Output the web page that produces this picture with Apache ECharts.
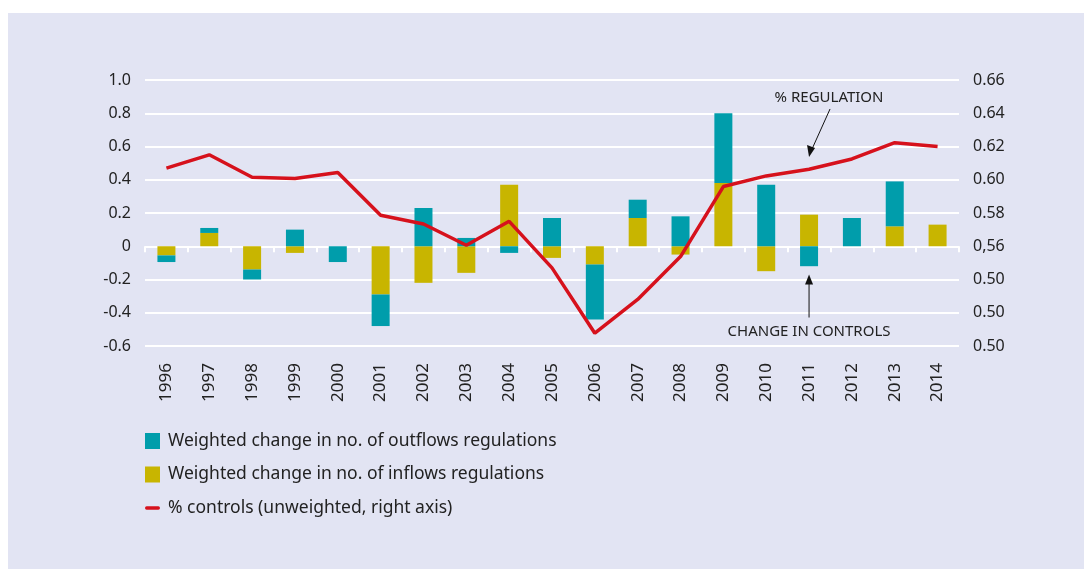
<!DOCTYPE html>
<html>
<head>
<meta charset="utf-8">
<script src="https://cdn.jsdelivr.net/npm/echarts@6/dist/echarts.min.js"></script>
<style>
  html, body { margin: 0; padding: 0; background: #ffffff; }
  #chart { position: absolute; left: 8px; top: 13px; width: 1076px; height: 556px; background: #e2e4f3; }
</style>
</head>
<body>
<div id="chart"></div>
<script>
const years = ["1996", "1997", "1998", "1999", "2000", "2001", "2002", "2003", "2004", "2005",
  "2006", "2007", "2008", "2009", "2010", "2011", "2012", "2013", "2014"];

// weighted change in no. of inflows regulations (stacked first, next to zero)
const inflows = [-0.055, 0.08, -0.14, -0.04, 0, -0.29, -0.22, -0.16, 0.37, -0.07,
  -0.11, 0.17, -0.05, 0.38, -0.15, 0.19, 0, 0.12, 0.13];
// weighted change in no. of outflows regulations
const outflows = [-0.04, 0.03, -0.06, 0.1, -0.095, -0.19, 0.23, 0.05, -0.04, 0.17,
  -0.33, 0.11, 0.18, 0.42, 0.37, -0.12, 0.17, 0.27, 0];
// % controls, right axis
const controls = [0.607, 0.615, 0.6015, 0.6007, 0.6043, 0.5787, 0.5734, 0.5606, 0.575, 0.547,
  0.5077, 0.528, 0.5538, 0.5959, 0.6023, 0.6063, 0.6125, 0.6223, 0.62];

const leftTicks = ["-0.6", "-0.4", "-0.2", "0", "0.2", "0.4", "0.6", "0.8", "1.0"];
const rightTicks = ["0.50", "0.50", "0.50", "0,56", "0.58", "0.60", "0.62", "0.64", "0.66"];

const FONT = "Noto Sans";
const TEXT = "#222222";

const chart = echarts.init(document.getElementById("chart"), null, { renderer: "canvas" });

chart.setOption({
  animation: false,
  textStyle: { fontFamily: FONT },
  grid: { left: 137, right: 125, top: 67, bottom: 223, containLabel: false },
  legend: {
    orient: "vertical",
    left: 137,
    top: 419,
    padding: 0,
    itemGap: 15.5,
    itemWidth: 15,
    itemHeight: 16,
    textStyle: { fontFamily: FONT, fontSize: 17.5, color: TEXT, padding: [0, 0, 0, 3] },
    data: [
      { name: "Weighted change in no. of outflows regulations", icon: "rect" },
      { name: "Weighted change in no. of inflows regulations", icon: "rect" },
      { name: "% controls (unweighted, right axis)", icon: "path://M2,0h14a2,2 0 0 1 0,4h-14a2,2 0 0 1 0,-4z" }
    ]
  },
  xAxis: {
    type: "category",
    data: years,
    boundaryGap: true,
    axisLine: { show: false },
    axisTick: { show: true, alignWithLabel: false, length: 6, lineStyle: { color: "#ffffff", width: 2 } },
    axisLabel: { rotate: 90, fontSize: 17, color: TEXT, margin: 17, fontFamily: FONT }
  },
  yAxis: [
    {
      type: "value",
      min: -0.6,
      max: 1.0,
      interval: 0.2,
      axisLine: { show: false },
      axisTick: { show: false },
      splitLine: { show: true, lineStyle: { color: "#ffffff", width: 2 } },
      axisLabel: {
        fontSize: 16, color: TEXT, margin: 14, fontFamily: FONT,
        formatter: v => leftTicks[Math.round((v + 0.6) / 0.2)]
      }
    },
    {
      type: "value",
      min: 0.5,
      max: 0.66,
      interval: 0.02,
      axisLine: { show: false },
      axisTick: { show: false },
      splitLine: { show: false },
      axisLabel: {
        fontSize: 16, color: TEXT, margin: 14, fontFamily: FONT,
        formatter: v => rightTicks[Math.round((v - 0.5) / 0.02)]
      }
    }
  ],
  series: [
    {
      name: "Weighted change in no. of inflows regulations",
      type: "bar",
      stack: "chg",
      barWidth: 18,
      itemStyle: { color: "#c8b500" },
      data: inflows
    },
    {
      name: "Weighted change in no. of outflows regulations",
      type: "bar",
      stack: "chg",
      barWidth: 18,
      itemStyle: { color: "#009dab" },
      data: outflows
    },
    {
      name: "% controls (unweighted, right axis)",
      type: "line",
      yAxisIndex: 1,
      symbol: "none",
      lineStyle: { color: "#d6111c", width: 3.5 },
      itemStyle: { color: "#d6111c" },
      z: 5,
      data: controls
    }
  ]
});

// annotations, anchored to the data positions the arrows point at
const regPt = chart.convertToPixel({ xAxisIndex: 0, yAxisIndex: 1 }, [15, 0.6137]);
const ctlPt = chart.convertToPixel({ xAxisIndex: 0, yAxisIndex: 0 }, [15, -0.17]);
chart.setOption({
  graphic: [
    {
      type: "text", x: regPt[0] + 20, y: regPt[1] - 59,
      style: { text: "% REGULATION", fontFamily: FONT, fontSize: 15, fill: TEXT, align: "center", verticalAlign: "middle" }
    },
    {
      type: "line",
      shape: { x1: regPt[0] + 21, y1: regPt[1] - 48, x2: regPt[0] + 3, y2: regPt[1] - 8 },
      style: { stroke: "#111", lineWidth: 1 }
    },
    {
      type: "polygon",
      shape: { points: [[regPt[0], regPt[1]], [regPt[0] - 2, regPt[1] - 12], [regPt[0] + 6, regPt[1] - 9]] },
      style: { fill: "#111" }
    },
    {
      type: "line",
      shape: { x1: ctlPt[0], y1: ctlPt[1] + 43, x2: ctlPt[0], y2: ctlPt[1] + 6 },
      style: { stroke: "#111", lineWidth: 1 }
    },
    {
      type: "polygon",
      shape: { points: [[ctlPt[0], ctlPt[1]], [ctlPt[0] - 4, ctlPt[1] + 10], [ctlPt[0] + 4, ctlPt[1] + 10]] },
      style: { fill: "#111" }
    },
    {
      type: "text", x: ctlPt[0], y: ctlPt[1] + 57,
      style: { text: "CHANGE IN CONTROLS", fontFamily: FONT, fontSize: 15, fill: TEXT, align: "center", verticalAlign: "middle" }
    }
  ]
});
</script>
</body>
</html>
